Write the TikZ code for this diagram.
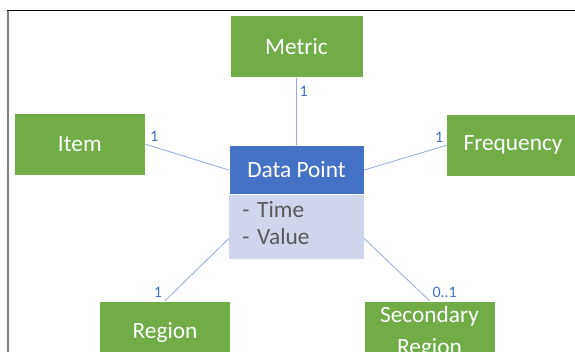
\documentclass[tikz,border=0pt]{standalone}
\usepackage{fontspec}
\setmainfont{Carlito}
\usepackage{xcolor}
\usetikzlibrary{positioning}

\definecolor{entgreen}{HTML}{70AD47}
\definecolor{hdrblue}{HTML}{4472C4}
\definecolor{attrfill}{HTML}{CFD5EA}
\definecolor{attrtext}{HTML}{595959}
\definecolor{linkblue}{HTML}{8FAADC}

\tikzset{
    entity/.style={rectangle, fill=entgreen, draw=white, line width=0.4pt, text=white,
        minimum width=99.75pt, minimum height=46.5pt, align=center,
        font=\fontsize{17.5}{24}\selectfont},
    header/.style={rectangle, fill=hdrblue, draw=white, line width=0.4pt, text=white,
        minimum width=101.25pt, minimum height=36.8pt,
        font=\fontsize{17.5}{20.5}\selectfont},
    attrs/.style={rectangle, fill=attrfill, text=attrtext, inner xsep=10pt,
        text width=81.25pt, minimum height=48.3pt, text depth=27pt, align=left,
        font=\fontsize{17.5}{20.5}\selectfont},
    link/.style={draw=linkblue, line width=0.6pt},
    card/.style={text=hdrblue, inner sep=2pt, font=\fontsize{12}{12}\selectfont}
}

\begin{document}
\begin{tikzpicture}
    \path[use as bounding box, clip] (-222.375pt,-135.75pt) rectangle (208.875pt,127.5pt);

    % frame
    \draw[gray, line width=1.5pt] (-216pt,-140pt) -- (-216pt,119.6pt);
    \draw[black, line width=0.8pt] (-216.75pt,119.6pt) -- (215pt,119.6pt);

    \node[header] (dp) at (0,0) {Data Point};
    \node[attrs, below=0pt of dp] (attr) {- Time\\- Value};

    \node[entity, above=50.6pt of dp] (metric) {Metric};
    \node[entity, left=62.25pt of dp, yshift=19.3pt, minimum width=98.5pt] (item) {Item};
    \node[entity, right=61.5pt of dp, yshift=18.5pt] (freq) {Frequency};
    \node[entity, below=30.75pt of attr, xshift=-98.6pt, minimum width=98pt] (region) {Region};
    \node[entity, below=30.75pt of attr, xshift=99.75pt, minimum width=98pt] (secregion) {Secondary\\Region};

    \draw[link] (metric) -- node[pos=0.2, right, card] {1} (dp);
    \draw[link] (item.east) node[anchor=south west, card, xshift=1pt] {1} -- (dp.west);
    \draw[link] (dp.east) -- (freq.west) node[anchor=south east, card] {1};
    \draw[link] ([yshift=-8.5pt]attr.west) -- (region.north) node[anchor=south east, card] {1};
    \draw[link] ([yshift=-8.5pt]attr.east) -- (secregion.north) node[anchor=south west, card] {0..1};
\end{tikzpicture}
\end{document}
